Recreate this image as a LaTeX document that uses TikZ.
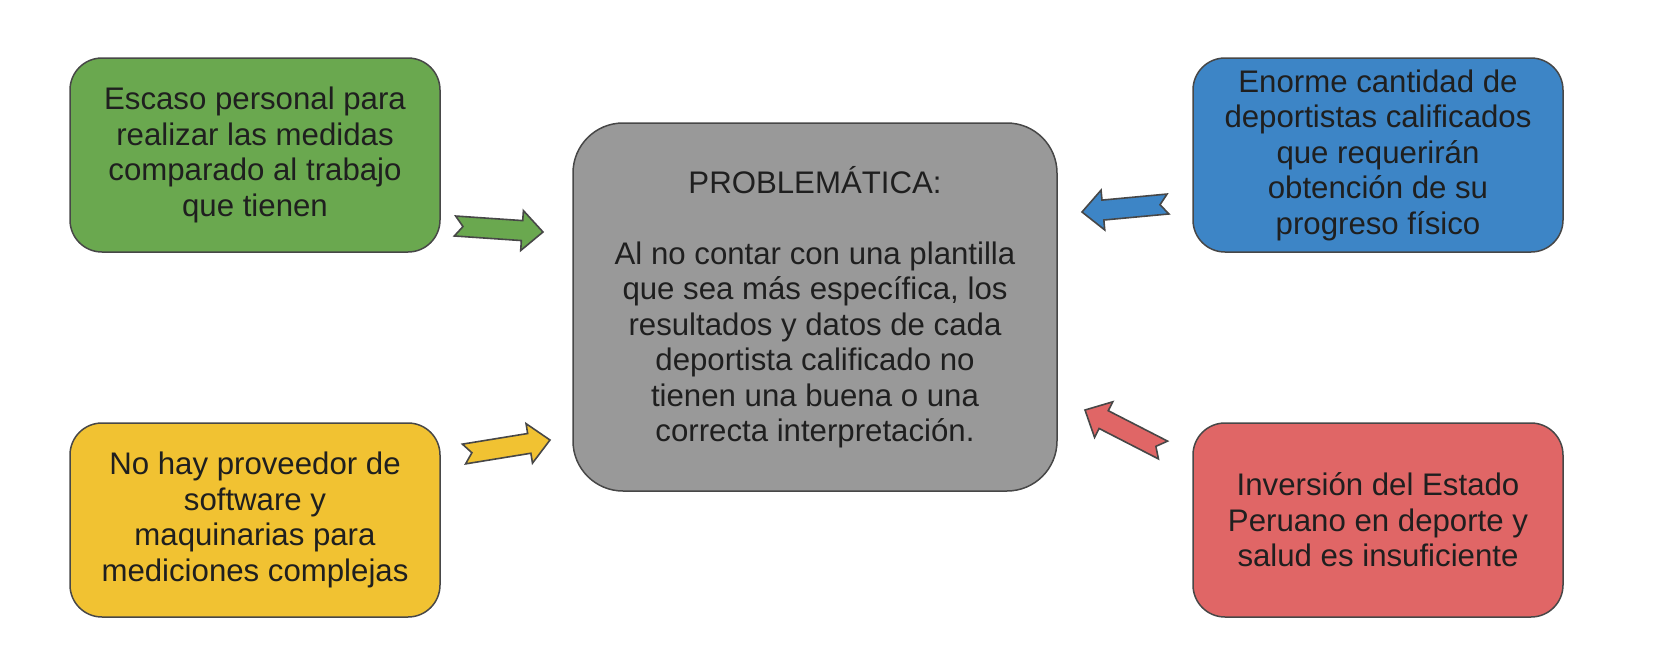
\documentclass[tikz,border=0pt]{standalone}
\usepackage{fontspec}
\setmainfont{Liberation Sans}
\usetikzlibrary{calc}

\definecolor{verde}{HTML}{6AA84F}
\definecolor{amarillo}{HTML}{F1C232}
\definecolor{azul}{HTML}{3D85C6}
\definecolor{rojo}{HTML}{E06666}
\definecolor{gris}{HTML}{999999}
\definecolor{borde}{HTML}{474747}
\definecolor{texto}{HTML}{1F1F1F}

\begin{document}
\begin{tikzpicture}[x=0.5pt,y=-0.5pt]
    \tikzset{caja/.style   = {draw=borde,
        line width      = 0.75pt,
        rounded corners = 16pt,
        minimum width   = 185pt,
        minimum height  = 97pt,
        inner sep       = 0pt,
        align           = center,
        text            = texto,
        font            = \fontsize{15.6}{17.75}\selectfont
        },
      centro/.style = {caja,
        rounded corners = 25pt,
        minimum width   = 242pt,
        minimum height  = 184pt
        },
      flecha/.style = {draw=borde, line width=0.8pt, line join=miter}}

    \def\Izq{255};
    \def\Der{1378};

    % Block arrow: fill colour, tail, tip.
    \def\flecha#1#2#3{%
      \path (#2) coordinate (cola) (#3) coordinate (punta);
      \path ($(punta)!10.5pt!(cola)$) coordinate (base)
            ($(cola)!4pt!(punta)$) coordinate (muesca);
      \draw[flecha, fill=#1] ($(cola)!5pt!90:(punta)$)
        -- ($(base)!5pt!90:(punta)$) -- ($(base)!10pt!90:(punta)$)
        -- (punta)
        -- ($(base)!10pt!-90:(punta)$) -- ($(base)!5pt!-90:(punta)$)
        -- ($(cola)!5pt!-90:(punta)$) -- (muesca) -- cycle;
    }

    \useasboundingbox (0,0) rectangle (1662,671);

    % Draw the boxes.
    \node[centro, fill=gris] (problema) at (815,307)
      {PROBLEMÁTICA:\\[17.75pt]Al no contar con una plantilla\\que sea más específica, los\\resultados y datos de cada\\deportista calificado no\\tienen una buena o una\\correcta interpretación.};

    \node[caja, fill=verde] (escaso) at (\Izq,155)
      {Escaso personal para\\realizar las medidas\\comparado al trabajo\\que tienen};
    \node[caja, fill=amarillo] (proveedor) at (\Izq,520)
      {No hay proveedor de\\software y\\maquinarias para\\mediciones complejas};
    \node[caja, fill=azul] (cantidad) at (\Der,155)
      {Enorme cantidad de\\deportistas calificados\\que requerirán\\obtención de su\\progreso físico};
    \node[caja, fill=rojo] (inversion) at (\Der,520)
      {Inversión del Estado\\Peruano en deporte y\\salud es insuficiente};

    % Draw the arrows.
    \coordinate (escaso-a) at (455,226);
    \coordinate (escaso-b) at (543,232);
    \coordinate (proveedor-a) at (464,454);
    \coordinate (proveedor-b) at (550,440);
    \coordinate (cantidad-a) at (1168,204);
    \coordinate (cantidad-b) at (1082,212);
    \coordinate (inversion-a) at (1163,450);
    \coordinate (inversion-b) at (1085,410);

    \flecha{verde}{escaso-a}{escaso-b}
    \flecha{amarillo}{proveedor-a}{proveedor-b}
    \flecha{azul}{cantidad-a}{cantidad-b}
    \flecha{rojo}{inversion-a}{inversion-b}
  \end{tikzpicture}
\end{document}
